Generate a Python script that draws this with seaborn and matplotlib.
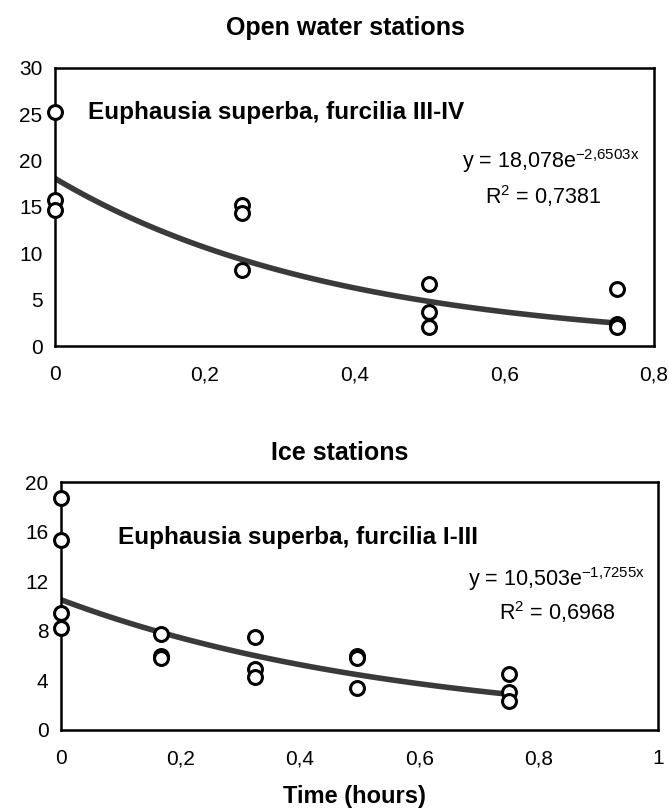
import numpy as np
import pandas as pd
import matplotlib
matplotlib.use("Agg")
import matplotlib.pyplot as plt
import seaborn as sns

# open water stations, furcilia III-IV
open_time = [0, 0, 0, 0.25, 0.25, 0.25, 0.5, 0.5, 0.5, 0.75, 0.75, 0.75]
open_count = [25.2, 15.8, 14.7, 15.2, 14.4, 8.2, 6.7, 3.7, 2.0, 6.2, 2.4, 2.0]
open_fit = [18.078, -2.6503]

# ice stations, furcilia I-III
ice_time = [0, 0, 0, 0, 0.167, 0.167, 0.167, 0.325, 0.325, 0.325,
            0.495, 0.495, 0.495, 0.75, 0.75, 0.75]
ice_count = [18.7, 15.3, 9.4, 8.2, 7.7, 6.0, 5.8, 7.5, 4.9, 4.3,
             6.0, 5.8, 3.4, 4.5, 3.1, 2.3]
ice_fit = [10.503, -1.7255]

sns.set_style("white")
plt.rcParams['font.family'] = ['Liberation Sans', 'DejaVu Sans']
plt.rcParams['mathtext.default'] = 'regular'
plt.rcParams['text.color'] = 'black'
plt.rcParams['xtick.color'] = 'black'
plt.rcParams['ytick.color'] = 'black'


def comma(v):
    s = ('%g' % v).replace('.', ',')
    return s


def draw_panel(ax, t, c, fit, xmax, ymax, ystep, xstep):
    df = pd.DataFrame({'t': t, 'c': c})
    xs = np.linspace(0, max(t), 60)
    line = pd.DataFrame({'t': xs, 'c': fit[0] * np.exp(fit[1] * xs)})
    sns.lineplot(data=line, x='t', y='c', ax=ax, color='#3a3a3a', lw=4, zorder=2)
    sns.scatterplot(data=df, x='t', y='c', ax=ax, marker='o', s=100,
                    facecolor='white', edgecolor='black', linewidth=2.2,
                    zorder=3, clip_on=False)
    ax.set_xlim(0, xmax)
    ax.set_ylim(0, ymax)
    xt = np.round(np.arange(0, xmax + 1e-9, xstep), 2)
    yt = np.arange(0, ymax + 1, ystep)
    ax.set_xticks(xt)
    ax.set_xticklabels([comma(v) for v in xt])
    ax.set_yticks(yt)
    ax.set_yticklabels([comma(v) for v in yt])
    ax.set_xlabel('')
    ax.set_ylabel('')
    ax.tick_params(axis='x', length=0, pad=14, labelsize=15)
    ax.tick_params(axis='y', length=0, pad=9, labelsize=15)
    for sp in ax.spines.values():
        sp.set_visible(True)
        sp.set_color('black')
        sp.set_linewidth(1.8)


fig = plt.figure(figsize=(6.69, 8.09), dpi=100)

ax1 = fig.add_axes([0.0822, 0.5723, 0.8954, 0.3437])
draw_panel(ax1, open_time, open_count, open_fit, 0.8, 30, 5, 0.2)
ax1.text(0.055, 0.84, 'Euphausia superba, furcilia III-IV', transform=ax1.transAxes,
         fontsize=17.5, fontweight='bold', va='center', ha='left')
ax1.text(0.975, 0.665, 'y = 18,078e$^{-2{,}6503x}$', transform=ax1.transAxes,
         fontsize=15.5, va='center', ha='right')
ax1.text(0.815, 0.54, 'R$^2$ = 0,7381', transform=ax1.transAxes,
         fontsize=15.5, va='center', ha='center')

ax2 = fig.add_axes([0.0912, 0.0977, 0.8924, 0.3065])
draw_panel(ax2, ice_time, ice_count, ice_fit, 1.0, 20, 4, 0.2)
ax2.text(0.095, 0.775, 'Euphausia superba, furcilia I-III', transform=ax2.transAxes,
         fontsize=17.5, fontweight='bold', va='center', ha='left')
ax2.text(0.978, 0.61, 'y = 10,503e$^{-1{,}7255x}$', transform=ax2.transAxes,
         fontsize=15.5, va='center', ha='right')
ax2.text(0.83, 0.475, 'R$^2$ = 0,6968', transform=ax2.transAxes,
         fontsize=15.5, va='center', ha='center')

fig.text(0.516, 1 - 28 / 809, 'Open water stations', fontsize=18,
         fontweight='bold', ha='center', va='center')
fig.text(0.508, 1 - 453 / 809, 'Ice stations', fontsize=18,
         fontweight='bold', ha='center', va='center')
fig.text(0.53, 1 - 797 / 809, 'Time (hours)', fontsize=17,
         fontweight='bold', ha='center', va='center')

fig.savefig('out.png', dpi=100)
